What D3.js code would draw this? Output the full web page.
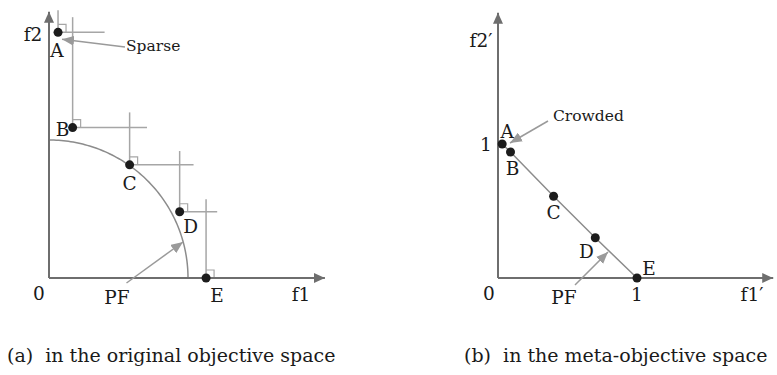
<!DOCTYPE html>
<html>
<head>
<meta charset="utf-8">
<script src="https://cdn.jsdelivr.net/npm/d3@7"></script>
<style>
  html, body { margin: 0; padding: 0; background: #fff; }
  svg text { font-family: "DejaVu Serif", "Liberation Serif", serif; fill: #1a1a1a; white-space: pre; }
</style>
</head>
<body>
<svg id="chart" width="777" height="375"></svg>
<script>
// Solution labels
const labels = ["A", "B", "C", "D", "E"];

// (a) original objective space
const objF1 = [0.065, 0.17, 0.58, 0.94, 1.13];
const objF2 = [1.78, 1.09, 0.82, 0.48, 0.0];
// extent of the dominance guide lines for each solution
const guideTop = [1.94, 1.89, 1.20, 0.92, 0.57];
const guideRight = [0.40, 0.705, 1.04, 1.21, 1.54];

// (b) meta-objective space
const metaF1 = [0.03, 0.09, 0.40, 0.70, 1.0];
const metaF2 = [1.0, 0.94, 0.61, 0.30, 0.0];
const metaTicks = [0, 1];

const svg = d3.select("#chart");
const axisColor = "#6e6e6e";
const guideColor = "#a6a6a6";
const pointColor = "#1c1c1c";
const labelSize = 18.5;
const noteSize = 15.5;
const captionSize = 19;

const defs = svg.append("defs");
function arrowMarker(id, color, w, h) {
  defs.append("marker")
    .attr("id", id)
    .attr("viewBox", `0 0 ${w} ${h}`)
    .attr("refX", w).attr("refY", h / 2)
    .attr("markerWidth", w).attr("markerHeight", h)
    .attr("markerUnits", "userSpaceOnUse")
    .attr("orient", "auto")
    .append("path")
    .attr("d", `M0,0L${w},${h / 2}L0,${h}Z`)
    .attr("fill", color);
}
arrowMarker("axisHead", axisColor, 11, 10);
arrowMarker("noteHead", "#9a9a9a", 12, 10);

function axes(g, x, y, xMax, yMax) {
  g.append("line")
    .attr("x1", x(0)).attr("y1", y(0)).attr("x2", x(0)).attr("y2", y(yMax))
    .attr("stroke", axisColor).attr("stroke-width", 2)
    .attr("marker-end", "url(#axisHead)");
  g.append("line")
    .attr("x1", x(0)).attr("y1", y(0)).attr("x2", x(xMax)).attr("y2", y(0))
    .attr("stroke", axisColor).attr("stroke-width", 2)
    .attr("marker-end", "url(#axisHead)");
}

function note(g, x1, y1, x2, y2) {
  g.append("line")
    .attr("x1", x1).attr("y1", y1).attr("x2", x2).attr("y2", y2)
    .attr("stroke", "#9a9a9a").attr("stroke-width", 1.5)
    .attr("marker-end", "url(#noteHead)");
}

function txt(g, s, x, y, size, anchor) {
  return g.append("text")
    .attr("x", x).attr("y", y)
    .attr("font-size", size)
    .attr("text-anchor", anchor || "middle")
    .text(s);
}

// ---------- panel (a) ----------
{
  const g = svg.append("g");
  const x = d3.scaleLinear().domain([0, 1]).range([49, 188]);
  const y = d3.scaleLinear().domain([0, 1]).range([278, 140]);
  const pts = labels.map((l, i) => ({ l, f1: objF1[i], f2: objF2[i], top: guideTop[i], right: guideRight[i] }));

  // Pareto front: quarter arc of the unit circle
  const arc = d3.range(0, 91, 1).map(a => [Math.cos(a * Math.PI / 180), Math.sin(a * Math.PI / 180)]);
  g.append("path")
    .attr("d", d3.line().x(d => x(d[0])).y(d => y(d[1]))(arc))
    .attr("fill", "none").attr("stroke", "#8c8c8c").attr("stroke-width", 1.5);

  // dominance guides
  pts.forEach(p => {
    g.append("line")
      .attr("x1", x(p.f1)).attr("y1", y(p.f2)).attr("x2", x(p.f1)).attr("y2", y(p.top))
      .attr("stroke", guideColor).attr("stroke-width", 1.5);
    g.append("line")
      .attr("x1", x(p.f1)).attr("y1", y(p.f2)).attr("x2", x(p.right)).attr("y2", y(p.f2))
      .attr("stroke", guideColor).attr("stroke-width", 1.5);
    // right-angle mark
    g.append("path")
      .attr("d", `M${x(p.f1)},${y(p.f2) - 8}H${x(p.f1) + 8}V${y(p.f2)}`)
      .attr("fill", "none").attr("stroke", guideColor).attr("stroke-width", 1.2);
  });

  axes(g, x, y, 1.985, 1.93);

  g.selectAll("circle.pt").data(pts).join("circle")
    .attr("class", "pt")
    .attr("cx", d => x(d.f1)).attr("cy", d => y(d.f2)).attr("r", 4.5)
    .attr("fill", pointColor);

  const off = { A: [-1, 25], B: [-10, 8], C: [0, 25], D: [11, 21], E: [11, 24] };
  pts.forEach(p => txt(g, p.l, x(p.f1) + off[p.l][0], y(p.f2) + off[p.l][1], labelSize));

  txt(g, "f2", 33, 41, labelSize);
  txt(g, "0", 39, 300, labelSize);
  txt(g, "f1", 301, 301, labelSize);
  txt(g, "PF", 117, 304, labelSize);
  txt(g, "Sparse", 126, 51, noteSize, "start");

  note(g, 125, 47, x(objF1[0]) + 4, y(objF2[0]) + 7);
  note(g, 126.5, 283, 183, 242);

  txt(g, "(a)  in the original objective space", 7, 362, captionSize, "start");
}

// ---------- panel (b) ----------
{
  const g = svg.append("g");
  const x = d3.scaleLinear().domain([0, 1]).range([498, 637]);
  const y = d3.scaleLinear().domain([0, 1]).range([278, 144]);
  const pts = labels.map((l, i) => ({ l, f1: metaF1[i], f2: metaF2[i] }));

  // normalized front
  g.append("path")
    .attr("d", d3.line().x(d => x(d.f1)).y(d => y(d.f2))(pts))
    .attr("fill", "none").attr("stroke", "#8c8c8c").attr("stroke-width", 1.5);

  axes(g, x, y, 1.98, 1.98);

  g.selectAll("circle.pt").data(pts).join("circle")
    .attr("class", "pt")
    .attr("cx", d => x(d.f1)).attr("cy", d => y(d.f2)).attr("r", 4.5)
    .attr("fill", pointColor);

  const off = { A: [5, -6], B: [2, 23], C: [0, 23], D: [-9, 20], E: [12, -3] };
  pts.forEach(p => txt(g, p.l, x(p.f1) + off[p.l][0], y(p.f2) + off[p.l][1], labelSize));

  // tick labels
  txt(g, String(metaTicks[1]), x(0) - 12, y(metaTicks[1]) + 7, labelSize);
  txt(g, String(metaTicks[0]), x(0) - 9, 300, labelSize);
  txt(g, String(metaTicks[1]), x(metaTicks[1]), 301, labelSize);

  txt(g, "f2\u2032", 481, 47, labelSize);
  txt(g, "f1\u2032", 752, 301, labelSize);
  txt(g, "PF", 564, 304, labelSize);
  txt(g, "Crowded", 553, 121, noteSize, "start");

  note(g, 548, 121, 510, 143);
  note(g, 575, 285, 608, 252);

  txt(g, "(b)  in the meta-objective space", 464, 362, captionSize, "start");
}
</script>
</body>
</html>
